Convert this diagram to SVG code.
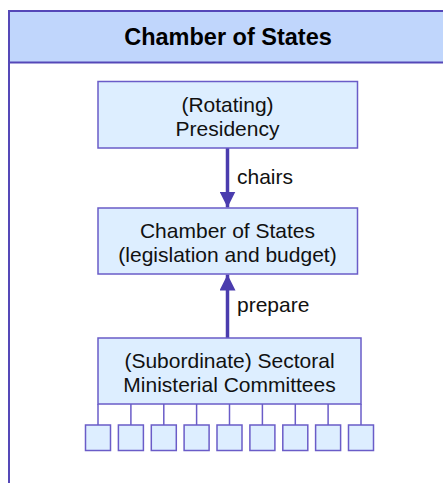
<svg xmlns="http://www.w3.org/2000/svg" width="443" height="483" viewBox="0 0 443 483">
<defs>
<style>
.frame{fill:#ffffff;stroke:#5548b8;stroke-width:2}
.hdr{fill:#c0d6fc;stroke:#5548b8;stroke-width:2}
.title{font-family:"Liberation Sans",Arial,sans-serif;font-size:23.5px;font-weight:bold;fill:#000;text-anchor:middle}
.box{fill:#ddeeff;stroke:#6a5cc8;stroke-width:1.5}
.sbox{fill:#ddeeff;stroke:#6a5cc8;stroke-width:1.5}
.t{font-family:"Liberation Sans",Arial,sans-serif;font-size:21px;fill:#111;text-anchor:middle}
.lbl{font-family:"Liberation Sans",Arial,sans-serif;font-size:21px;fill:#111}
.arrow{stroke:#4a3cae;stroke-width:3.5;fill:none}
.tick{stroke:#6a5cc8;stroke-width:1.5}
</style>
<marker id="ah" viewBox="0 0 10 10" refX="10" refY="5" markerUnits="userSpaceOnUse" markerWidth="16" markerHeight="16" orient="auto">
<path d="M0,0 L10,5 L0,10 z" fill="#4a3cae"/>
</marker>
</defs>
<g id="frame">
<rect class="frame" x="9" y="11" width="480" height="500"/>
<rect class="hdr" x="9" y="11" width="480" height="51.5"/>
<text class="title" x="228" y="45">Chamber of States</text>
</g>
<g id="connectors">
<line class="arrow" x1="227.5" y1="148" x2="227.5" y2="207.5" marker-end="url(#ah)"/>
<line class="arrow" x1="227.5" y1="338" x2="227.5" y2="274.5" marker-end="url(#ah)"/>
<text class="lbl" x="237" y="184">chairs</text>
<text class="lbl" x="237" y="311.5">prepare</text>
<g id="ticks">
<line class="tick" x1="98" y1="404" x2="98" y2="425"/>
<line class="tick" x1="130.9" y1="404" x2="130.9" y2="425"/>
<line class="tick" x1="163.8" y1="404" x2="163.8" y2="425"/>
<line class="tick" x1="196.6" y1="404" x2="196.6" y2="425"/>
<line class="tick" x1="229.5" y1="404" x2="229.5" y2="425"/>
<line class="tick" x1="262.4" y1="404" x2="262.4" y2="425"/>
<line class="tick" x1="295.3" y1="404" x2="295.3" y2="425"/>
<line class="tick" x1="328.1" y1="404" x2="328.1" y2="425"/>
<line class="tick" x1="361" y1="404" x2="361" y2="425"/>
</g>
</g>
<g id="presidency">
<rect class="box" x="98" y="81.5" width="259.5" height="66.5"/>
<text class="t" x="227.5" y="112">(Rotating)</text>
<text class="t" x="227.5" y="136">Presidency</text>
</g>
<g id="chamber">
<rect class="box" x="98" y="208" width="259.5" height="66"/>
<text class="t" x="227.5" y="237.5">Chamber of States</text>
<text class="t" x="227.5" y="261.5">(legislation and budget)</text>
</g>
<g id="committees">
<rect class="box" x="98" y="338" width="263" height="66"/>
<text class="t" x="229.5" y="367.5">(Subordinate) Sectoral</text>
<text class="t" x="229.5" y="391.5">Ministerial Committees</text>
</g>
<g id="sub1"><rect class="sbox" x="85.5" y="425" width="25" height="25.5"/></g>
<g id="sub2"><rect class="sbox" x="118.4" y="425" width="25" height="25.5"/></g>
<g id="sub3"><rect class="sbox" x="151.3" y="425" width="25" height="25.5"/></g>
<g id="sub4"><rect class="sbox" x="184.1" y="425" width="25" height="25.5"/></g>
<g id="sub5"><rect class="sbox" x="217" y="425" width="25" height="25.5"/></g>
<g id="sub6"><rect class="sbox" x="249.9" y="425" width="25" height="25.5"/></g>
<g id="sub7"><rect class="sbox" x="282.8" y="425" width="25" height="25.5"/></g>
<g id="sub8"><rect class="sbox" x="315.6" y="425" width="25" height="25.5"/></g>
<g id="sub9"><rect class="sbox" x="348.5" y="425" width="25" height="25.5"/></g>
</svg>
